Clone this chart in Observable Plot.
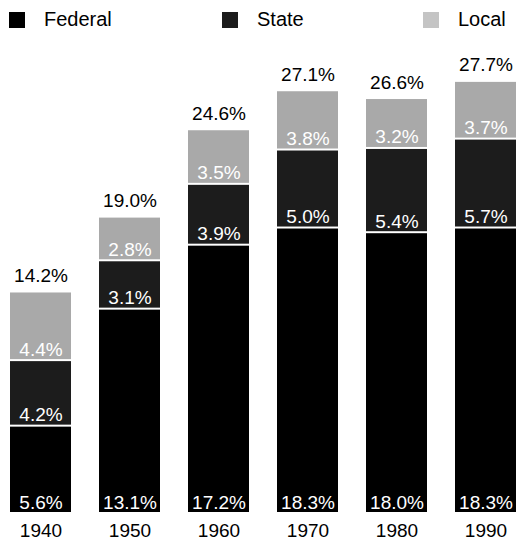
<!DOCTYPE html>
<html>
<head>
<meta charset="utf-8">
<script src="https://cdn.jsdelivr.net/npm/d3@7"></script>
<script src="https://cdn.jsdelivr.net/npm/@observablehq/plot@0.6"></script>
<style>
  html, body { margin: 0; padding: 0; background: #fff; }
  body { width: 532px; height: 540px; overflow: hidden; font-family: "Liberation Sans", Arial, sans-serif; }
  #legend { position: relative; height: 32px; font-size: 20px; color: #000; }
  #legend .item { position: absolute; top: 8px; display: flex; align-items: center; }
  #legend .sw { width: 16px; height: 16px; margin-right: 19px; }
  #chart svg { display: block; overflow: visible; }
</style>
</head>
<body>
<div id="legend"></div>
<div id="chart"></div>
<script>
const years = ["1940", "1950", "1960", "1970", "1980", "1990"];
const levels = ["Federal", "State", "Local"];
const federal = [5.6, 13.1, 17.2, 18.3, 18.0, 18.3];
const state = [4.2, 3.1, 3.9, 5.0, 5.4, 5.7];
const local = [4.4, 2.8, 3.5, 3.8, 3.2, 3.7];
const totals = [14.2, 19.0, 24.6, 27.1, 26.6, 27.7];
const colors = ["#000000", "#1c1c1c", "#a9a9a9"];

const series = {Federal: federal, State: state, Local: local};
const data = [];
years.forEach((y, i) => {
  levels.forEach(l => data.push({year: y, level: l, value: series[l][i]}));
});
const totalData = years.map((y, i) => ({year: y, total: totals[i]}));

// legend
const legend = document.getElementById("legend");
const legendX = [9, 222, 423];
levels.forEach((l, i) => {
  const it = document.createElement("div");
  it.className = "item";
  it.style.left = legendX[i] + "px";
  const sw = document.createElement("span");
  sw.className = "sw";
  sw.style.background = i === 2 ? "#c4c4c4" : colors[i];
  it.appendChild(sw);
  const t = document.createElement("span");
  t.textContent = l;
  it.appendChild(t);
  legend.appendChild(it);
});

const chart = Plot.plot({
  width: 532,
  height: 508,
  marginLeft: 10,
  marginRight: 16,
  marginTop: 12,
  marginBottom: 28,
  style: {fontFamily: "Liberation Sans, Arial, sans-serif", background: "#fff"},
  x: {domain: years, paddingInner: 0.315, paddingOuter: 0, label: null},
  y: {domain: [0, 30], axis: null},
  color: {domain: levels, range: colors},
  marks: [
    Plot.barY(data, {x: "year", y: "value", fill: "level", order: levels, insetTop: 2}),
    Plot.text(data, Plot.stackY1({
      x: "year", y: "value", z: "level", order: levels,
      text: d => d.value.toFixed(1) + "%",
      fill: "white", fontSize: 19, lineAnchor: "bottom", dy: -4
    })),
    Plot.text(totalData, {
      x: "year", y: "total", text: d => d.total.toFixed(1) + "%",
      fill: "black", fontSize: 19, lineAnchor: "bottom", dy: -9
    }),
    Plot.axisX({tickSize: 0, tickPadding: 11, fontSize: 19, label: null})
  ]
});
document.getElementById("chart").appendChild(chart);
</script>
</body>
</html>
